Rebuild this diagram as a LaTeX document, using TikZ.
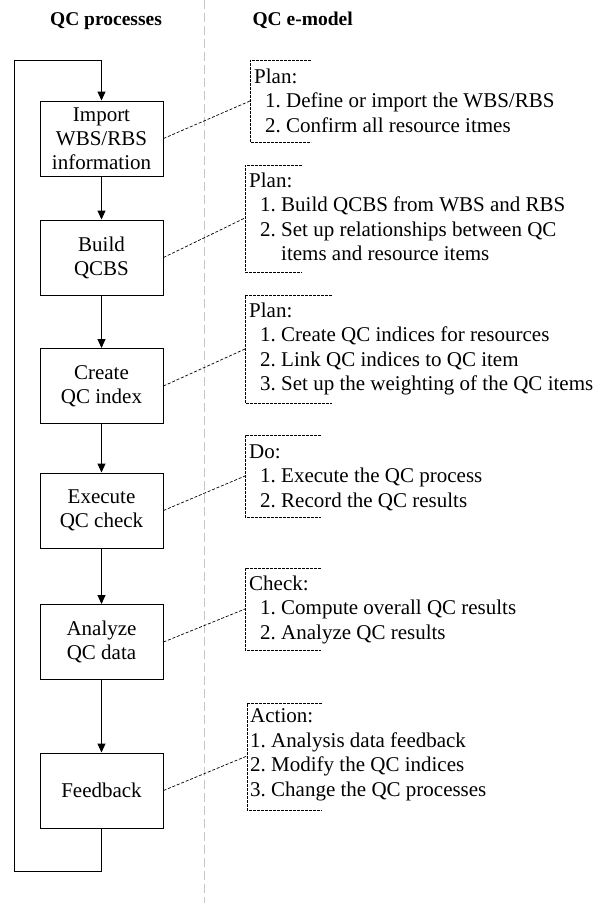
\documentclass[tikz,border=0pt]{standalone}
\usepackage{fontspec}
\setmainfont{Liberation Serif}
\usetikzlibrary{arrows.meta}

\begin{document}
\begin{tikzpicture}[x=1pt,y=-1pt,
    proc/.style={draw,line width=1pt,minimum width=123pt,minimum height=75pt,
                 align=center,inner sep=0pt,font=\fontsize{21}{24}\selectfont},
    arr/.style={-{Triangle[length=9pt,width=8pt]},line width=1pt},
    link/.style={dash pattern=on 3pt off 1.8pt,line width=0.7pt},
    bracket/.style={dash pattern=on 2.6pt off 1.4pt,line width=0.8pt},
    note/.style={anchor=north west,align=left,inner sep=0pt,
                 font=\fontsize{21}{24.5}\selectfont},
    title/.style={font=\fontsize{19.5}{22}\selectfont\bfseries,anchor=base}
  ]
    \useasboundingbox (0,0) rectangle (603,903);

    % column titles and divider
    \draw[gray!45,line width=1pt,dash pattern=on 9pt off 4pt] (204.5,0) -- (204.5,903);
    \node[title] (t_proc) at (106,25) {QC processes};
    \node[title,anchor=base west] (t_model) at (249,25) {QC e-model};

    % QC processes column
    \node[proc] (p_imp)  at (101.5,138.5) {Import\\WBS/RBS\\information};
    \node[proc] (p_qcbs) at (101.5,257.5) {Build\\QCBS};
    \node[proc] (p_idx)  at (101.5,386)   {Create\\QC index};
    \node[proc] (p_exe)  at (101.5,510.5) {Execute\\QC check};
    \node[proc] (p_ana)  at (101.5,642)   {Analyze\\QC data};
    \node[proc] (p_fb)   at (101.5,790.5) {Feedback};
    \draw[arr] (p_imp)--(p_qcbs); \draw[arr] (p_qcbs)--(p_idx);
    \draw[arr] (p_idx)--(p_exe);  \draw[arr] (p_exe)--(p_ana);
    \draw[arr] (p_ana)--(p_fb);

    % loop from feedback back to the start
    \coordinate (loop_bl) at (14,871);
    \coordinate (loop_tl) at (14,60);
    \draw[arr] (p_fb.south) |- (loop_bl) -- (loop_tl) -| (p_imp.north);

    % QC e-model notes (open dashed brackets)
    \draw[bracket] (311,60) -| (250,142) -- (311,142);
    \coordinate (m_imp) at (250,101);
    \node[note] (n_imp) at (254,68.7)
      {Plan:\\\hspace{11pt}1.\ Define or import the WBS/RBS\\
       \hspace{11pt}2.\ Confirm all resource itmes};
    \draw[link] (p_imp.east) -- (m_imp);

    \draw[bracket] (302,165) -| (245,272) -- (302,272);
    \coordinate (m_qcbs) at (245,218);
    \node[note] (n_qcbs) at (249,172.7)
      {Plan:\\\hspace{11pt}1.\ Build QCBS from WBS and RBS\\
       \hspace{11pt}2.\ Set up relationships between QC\\
       \hspace{11pt}\phantom{2.\ }items and resource items};
    \draw[link] (p_qcbs.east) -- (m_qcbs);

    \draw[bracket] (332,295) -| (245,403) -- (332,403);
    \coordinate (m_idx) at (245,349);
    \node[note] (n_idx) at (249,302.7)
      {Plan:\\\hspace{11pt}1.\ Create QC indices for resources\\
       \hspace{11pt}2.\ Link QC indices to QC item\\
       \hspace{11pt}3.\ Set up the weighting of the QC items};
    \draw[link] (p_idx.east) -- (m_idx);

    \draw[bracket] (321,435) -| (245,517) -- (321,517);
    \coordinate (m_exe) at (245,476);
    \node[note] (n_exe) at (249,444.1)
      {Do:\\\hspace{11pt}1.\ Execute the QC process\\
       \hspace{11pt}2.\ Record the QC results};
    \draw[link] (p_exe.east) -- (m_exe);

    \draw[bracket] (321,568) -| (245,650) -- (321,650);
    \coordinate (m_ana) at (245,609);
    \node[note] (n_ana) at (249,575.7)
      {Check:\\\hspace{11pt}1.\ Compute overall QC results\\
       \hspace{11pt}2.\ Analyze QC results};
    \draw[link] (p_ana.east) -- (m_ana);

    \draw[bracket] (322,703) -| (247,810) -- (322,810);
    \coordinate (m_fb) at (247,756);
    \node[note] (n_fb) at (250,708.7)
      {Action:\\1.\ Analysis data feedback\\
       2.\ Modify the QC indices\\
       3.\ Change the QC processes};
    \draw[link] (p_fb.east) -- (m_fb);
  \end{tikzpicture}
\end{document}
